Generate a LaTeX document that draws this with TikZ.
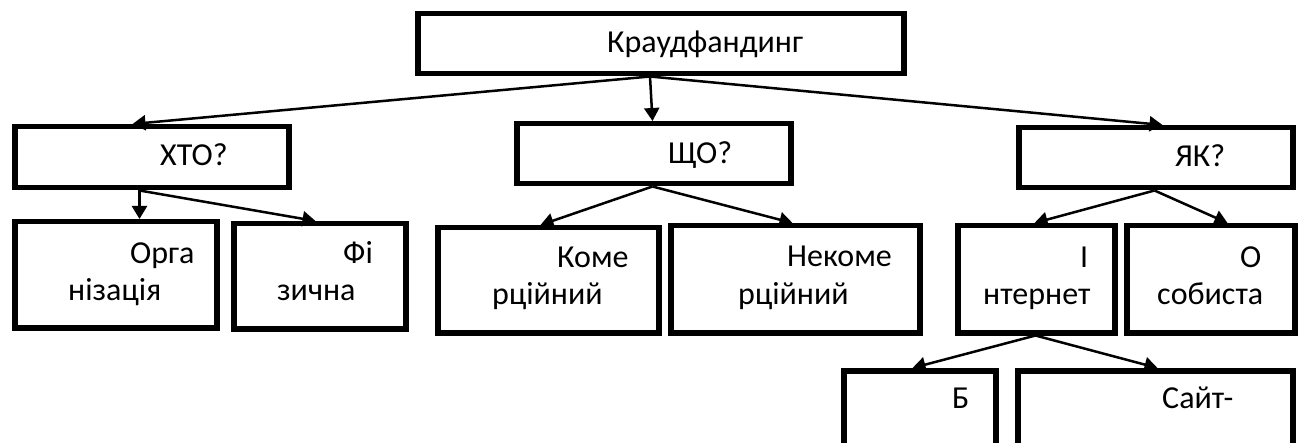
\documentclass[tikz,border=0pt]{standalone}
\usepackage{fontspec}
\setmainfont{Carlito}
\usetikzlibrary{arrows.meta}
\begin{document}
\begin{tikzpicture}[x=1pt,y=-1pt,
  box/.style={draw,line width=5.5pt,rectangle,inner sep=0pt,anchor=north west},
  arr/.style={line width=2.5pt,-{Triangle[length=13pt,width=15pt]}},
  txt/.style={anchor=base west,inner sep=0pt,font=\fontsize{32}{38}\selectfont}]
\useasboundingbox (0,0) rectangle (1300,443);
\clip (0,0) rectangle (1300,443);
% boxes
\node[box,minimum width=486pt,minimum height=60pt] (root) at (415,11) {};
\node[box,minimum width=274pt,minimum height=61pt] (xto) at (12,124) {};
\node[box,minimum width=274pt,minimum height=60pt] (shcho) at (514,121) {};
\node[box,minimum width=274pt,minimum height=60pt] (yak) at (1016,125) {};
\node[box,minimum width=202pt,minimum height=106pt] (org) at (12,219) {};
\node[box,minimum width=172pt,minimum height=105pt] (fiz) at (231,221) {};
\node[box,minimum width=221pt,minimum height=105pt] (kom) at (435,225) {};
\node[box,minimum width=249pt,minimum height=107pt] (nekom) at (668,223) {};
\node[box,minimum width=157pt,minimum height=107pt] (inet) at (955,223) {};
\node[box,minimum width=168pt,minimum height=107pt] (osob) at (1124,223) {};
\node[box,minimum width=152pt,minimum height=100pt] (blog) at (841,368) {};
\node[box,minimum width=275pt,minimum height=100pt] (site) at (1015,368) {};
% texts
\node[txt] (t-root) at (607,53) {Краудфандинг};
\node[txt] (t-xto) at (160,166) {ХТО?};
\node[txt] (t-shcho) at (668,164) {ЩО?};
\node[txt] (t-yak) at (1175,167) {ЯК?};
\node[txt] (t-org1) at (130,264) {Орга};
\node[txt] (t-org2) at (68,301) {нізація};
\node[txt] (t-fiz1) at (343,264) {Фі};
\node[txt] (t-fiz2) at (277,301) {зична};
\node[txt] (t-kom1) at (557,268) {Коме};
\node[txt] (t-kom2) at (492,305) {рційний};
\node[txt] (t-nekom1) at (787,267) {Некоме};
\node[txt] (t-nekom2) at (738,305) {рційний};
\node[txt] (t-inet1) at (1080,268) {І};
\node[txt] (t-inet2) at (983,305) {нтернет};
\node[txt] (t-osob1) at (1240,268) {О};
\node[txt] (t-osob2) at (1157,305) {собиста};
\node[txt] (t-blog) at (952,408) {Б};
\node[txt] (t-site) at (1162,408) {Сайт-};
% connectors
\coordinate (rs) at ([xshift=235pt]root.south west);
\draw[arr] (rs) -- ([xshift=120.5pt]xto.north west);
\draw[arr] (rs) -- ([xshift=138.5pt]shcho.north west);
\draw[arr] (rs) -- ([xshift=146.5pt]yak.north west);
\coordinate (xs) at ([xshift=127.5pt]xto.south west);
\draw[arr] (xs) -- ([xshift=127.5pt]org.north west);
\draw[arr] (xs) -- ([xshift=84.5pt]fiz.north west);
\coordinate (ss) at ([xshift=138.5pt]shcho.south west);
\draw[arr] (ss) -- ([xshift=105.5pt]kom.north west);
\draw[arr] (ss) -- ([xshift=124.5pt]nekom.north west);
\coordinate (ys) at ([xshift=138.5pt]yak.south west);
\draw[arr] (ys) -- ([xshift=79.5pt]inet.north west);
\draw[arr] (ys) -- ([xshift=103.5pt]osob.north west);
\coordinate (is) at ([xshift=80.5pt]inet.south west);
\draw[arr] (is) -- ([xshift=71.5pt]blog.north west);
\draw[arr] (is) -- ([xshift=142.5pt]site.north west);
\end{tikzpicture}
\end{document}
